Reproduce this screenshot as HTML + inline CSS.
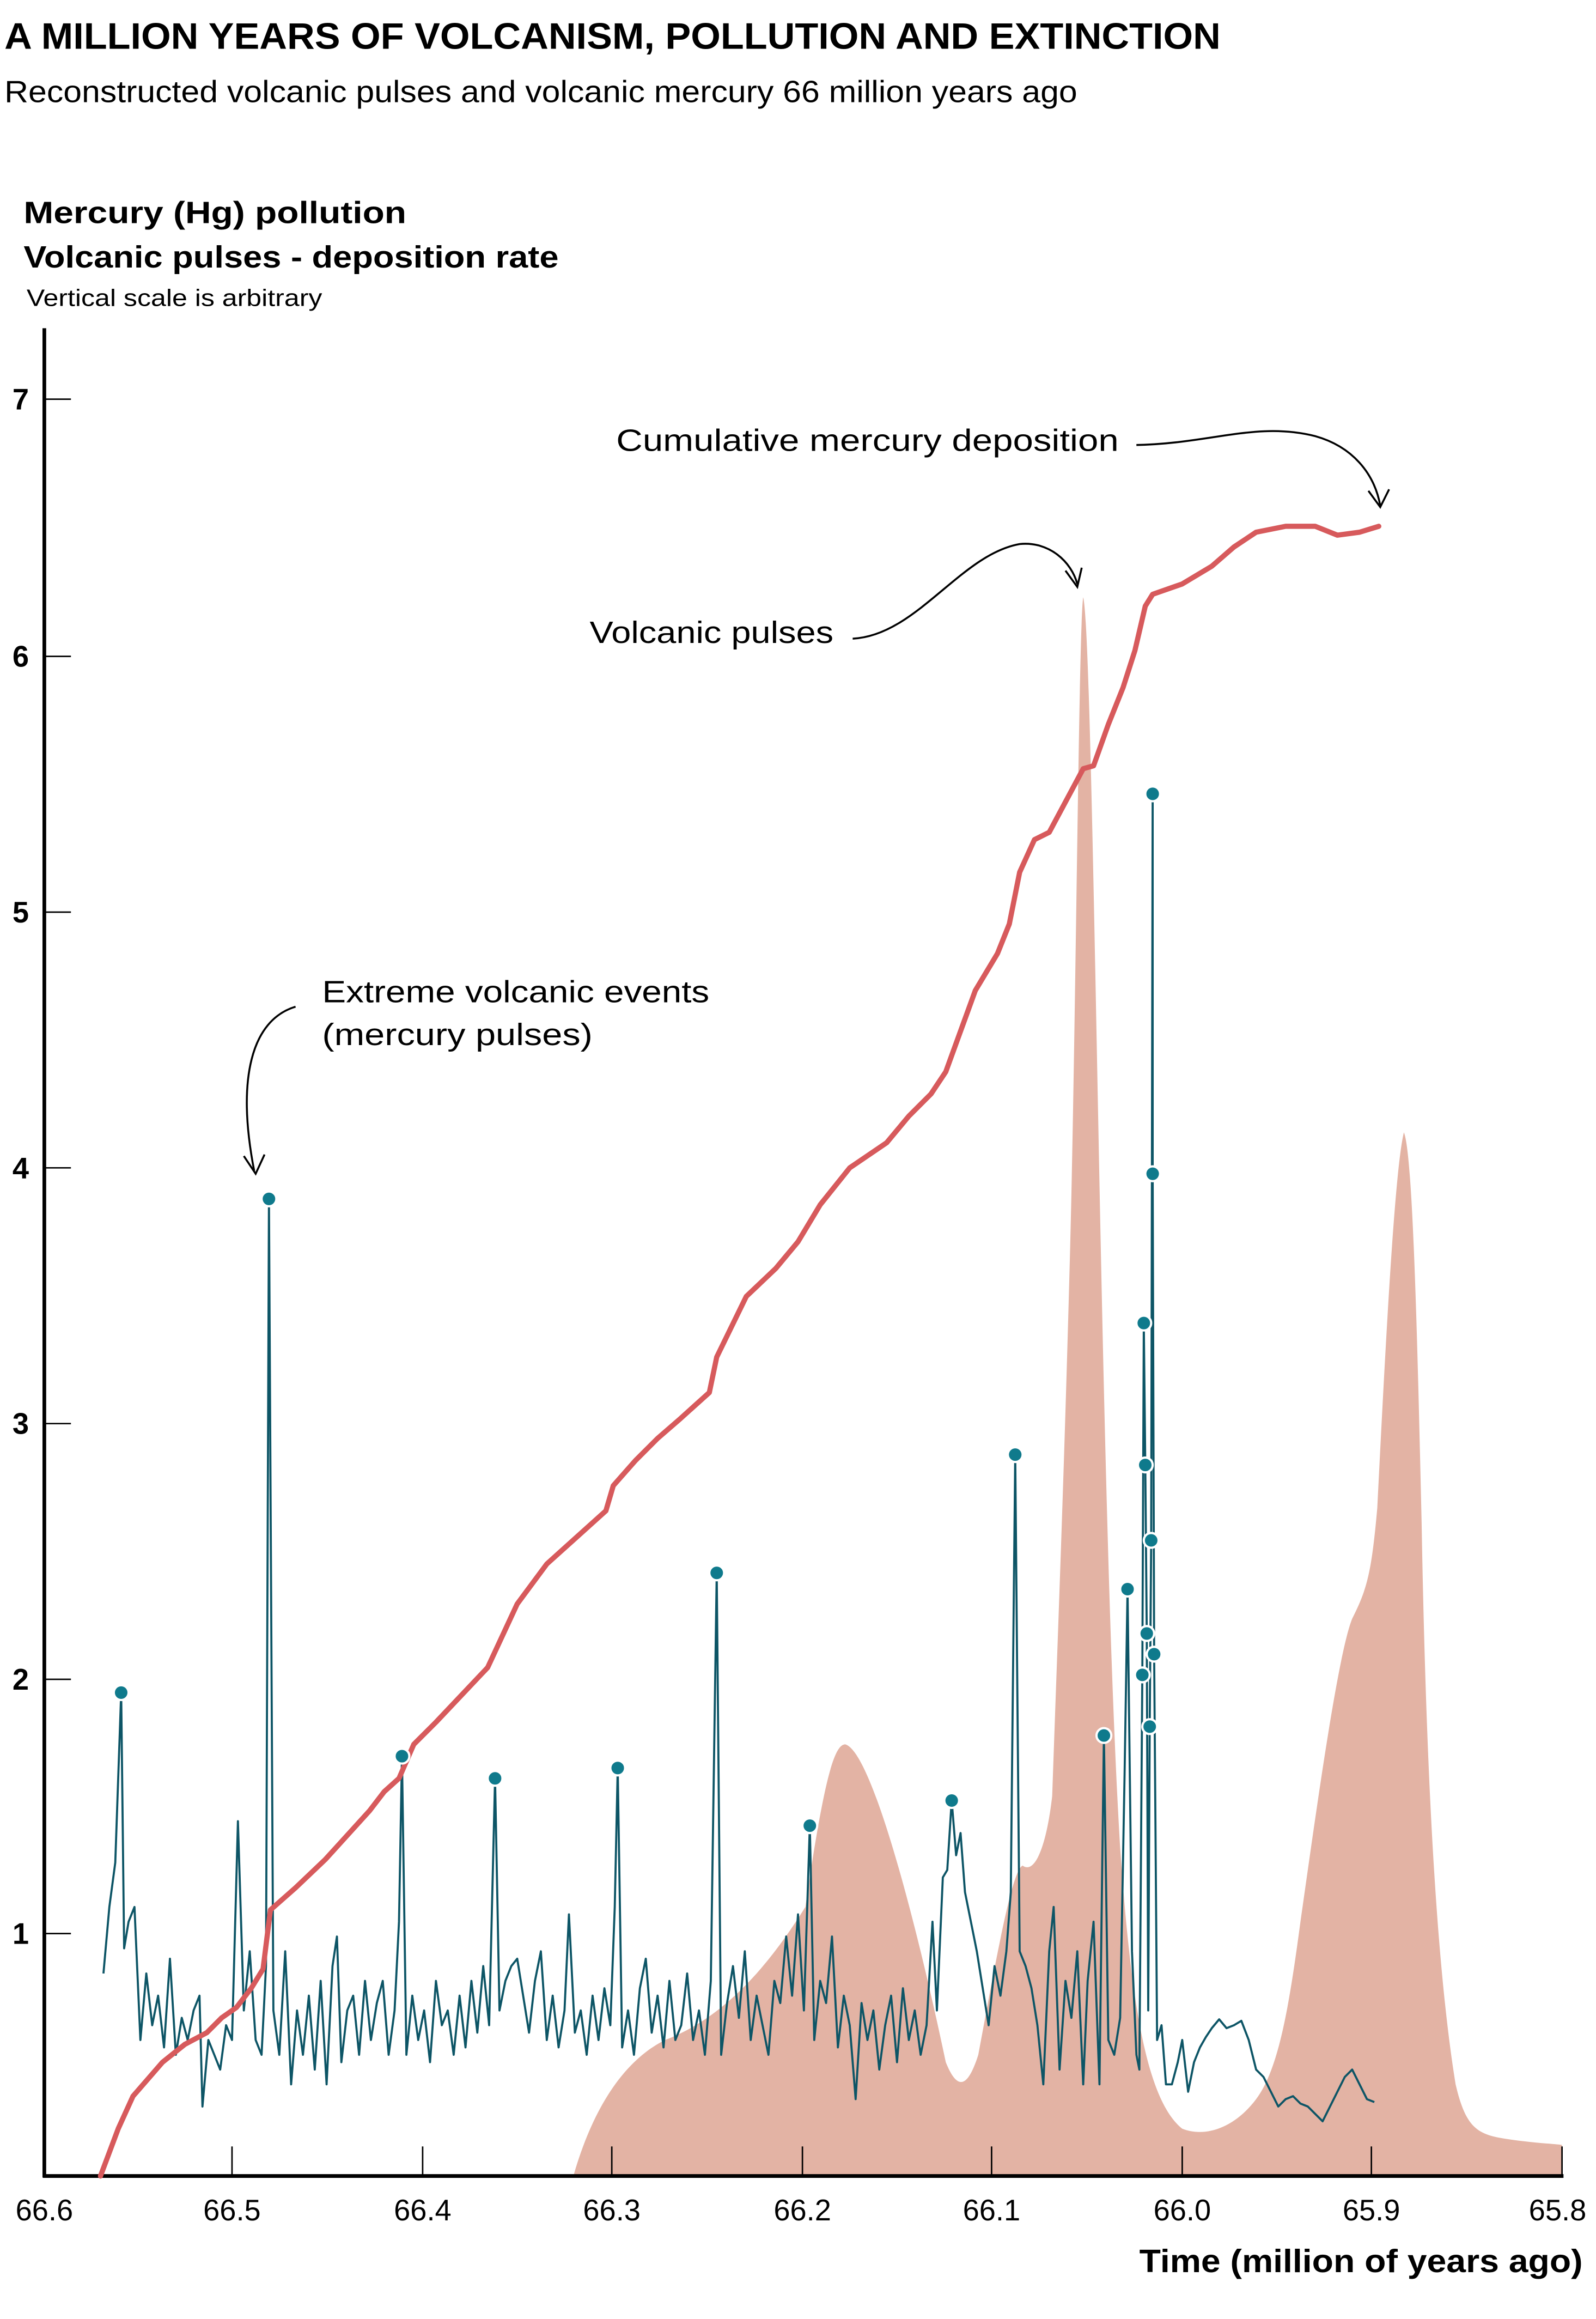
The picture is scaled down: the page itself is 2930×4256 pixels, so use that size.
<!DOCTYPE html>
<html><head><meta charset="utf-8"><style>
html,body{margin:0;padding:0;background:#fff}
svg{display:block}
text{font-family:"Liberation Sans",sans-serif}
</style></head><body>
<svg width="2930" height="4256" viewBox="0 0 1080 1568.7" xmlns="http://www.w3.org/2000/svg">
<rect width="1080" height="1568.7" fill="#fff"/>
<text x="3" y="33" font-size="25" font-weight="bold" textLength="823" lengthAdjust="spacingAndGlyphs">A MILLION YEARS OF VOLCANISM, POLLUTION AND EXTINCTION</text>
<text x="3" y="69" font-size="21" textLength="726" lengthAdjust="spacingAndGlyphs">Reconstructed volcanic pulses and volcanic mercury 66 million years ago</text>
<text x="16" y="151" font-size="21" font-weight="bold" textLength="259" lengthAdjust="spacingAndGlyphs">Mercury (Hg) pollution</text>
<text x="16" y="181" font-size="21" font-weight="bold" textLength="362" lengthAdjust="spacingAndGlyphs">Volcanic pulses - deposition rate</text>
<text x="18" y="207" font-size="16" textLength="200" lengthAdjust="spacingAndGlyphs">Vertical scale is arbitrary</text>

<!-- pink area -->
<path fill="#e3b3a4" d="M388,1472 C400,1430 420,1395 450,1380 C490,1365 520,1330 545,1290 C558,1200 565,1180 572,1180 C590,1185 620,1300 640,1395 C648,1415 655,1412 662,1390 C675,1320 685,1265 692,1262 C700,1268 708,1250 712,1215 C716,1100 720,1000 724,850 C728,700 730,420 733,404 C737,420 740,600 744,800 C748,1000 752,1150 758,1250 C765,1350 775,1420 800,1440 C815,1446 835,1440 850,1420 C865,1400 872,1360 880,1300 C890,1230 905,1120 915,1095 C925,1075 928,1065 932,1020 C938,900 944,790 950,766 C956,780 959,900 962,1030 C965,1200 972,1330 985,1410 C992,1440 1000,1444 1020,1447 C1040,1450 1050,1450 1057,1451 L1057,1472 Z"/>

<!-- axes -->
<line x1="30" y1="222" x2="30" y2="1473" stroke="#000" stroke-width="2.5"/>
<line x1="29" y1="1472" x2="1058" y2="1472" stroke="#000" stroke-width="2.5"/>
<g stroke="#000" stroke-width="1">
<line x1="30" y1="270" x2="48" y2="270"/><line x1="30" y1="444" x2="48" y2="444"/><line x1="30" y1="617" x2="48" y2="617"/><line x1="30" y1="790" x2="48" y2="790"/><line x1="30" y1="963" x2="48" y2="963"/><line x1="30" y1="1136" x2="48" y2="1136"/><line x1="30" y1="1308" x2="48" y2="1308"/>
<line x1="157" y1="1452" x2="157" y2="1472"/><line x1="286" y1="1452" x2="286" y2="1472"/><line x1="414" y1="1452" x2="414" y2="1472"/><line x1="543" y1="1452" x2="543" y2="1472"/><line x1="671" y1="1452" x2="671" y2="1472"/><line x1="800" y1="1452" x2="800" y2="1472"/><line x1="928" y1="1452" x2="928" y2="1472"/><line x1="1057" y1="1452" x2="1057" y2="1472"/>
</g>
<g font-size="20" font-weight="bold" text-anchor="middle">
<text x="14" y="277">7</text><text x="14" y="451">6</text><text x="14" y="624">5</text><text x="14" y="797">4</text><text x="14" y="970">3</text><text x="14" y="1143">2</text><text x="14" y="1315">1</text>
</g>
<g font-size="20" text-anchor="middle">
<text x="30" y="1502">66.6</text><text x="157" y="1502">66.5</text><text x="286" y="1502">66.4</text><text x="414" y="1502">66.3</text><text x="543" y="1502">66.2</text><text x="671" y="1502">66.1</text><text x="800" y="1502">66.0</text><text x="928" y="1502">65.9</text><text x="1054" y="1502">65.8</text>
</g>
<text x="1071" y="1537" font-size="22" font-weight="bold" text-anchor="end" textLength="300" lengthAdjust="spacingAndGlyphs">Time (million of years ago)</text>

<!-- teal series -->
<polyline fill="none" stroke="#0d5566" stroke-width="1.4" stroke-linejoin="round" points="70,1335 74,1290 78,1260 82,1145 84,1318 87,1300 91,1290 95,1380 99,1335 103,1370 107,1350 111,1385 115,1325 119,1390 123,1365 127,1380 131,1360 135,1350 137,1425 141,1380 145,1390 149,1400 153,1370 157,1380 161,1232 165,1360 169,1320 173,1380 177,1390 180,1330 182,811 185,1360 189,1390 193,1320 197,1410 201,1360 205,1390 209,1350 213,1400 217,1340 221,1410 225,1330 228,1310 231,1395 235,1360 239,1350 243,1390 247,1340 251,1380 255,1355 259,1340 263,1390 267,1360 270,1300 272,1188 275,1390 279,1350 283,1380 287,1360 291,1395 295,1340 299,1370 303,1360 307,1390 311,1350 315,1385 319,1340 323,1375 327,1330 331,1370 335,1203 338,1360 342,1340 346,1330 350,1325 354,1350 358,1375 362,1340 366,1320 370,1380 374,1350 378,1385 382,1360 385,1295 389,1375 393,1360 397,1390 401,1350 405,1380 409,1345 413,1370 416,1290 418,1196 421,1385 425,1360 429,1390 433,1345 437,1325 441,1375 445,1350 449,1385 453,1340 457,1380 461,1370 465,1335 469,1380 473,1360 477,1390 481,1340 485,1064 488,1390 492,1355 496,1330 500,1365 504,1320 508,1380 512,1350 516,1370 520,1390 524,1340 528,1355 532,1310 536,1350 540,1295 544,1360 548,1235 551,1380 555,1340 559,1355 563,1310 567,1385 571,1350 575,1370 579,1420 583,1355 587,1380 591,1360 595,1400 599,1370 603,1350 607,1395 611,1345 615,1380 619,1360 623,1390 627,1370 631,1300 634,1360 638,1270 641,1265 644,1218 647,1255 650,1240 653,1280 657,1300 661,1320 665,1345 669,1370 673,1330 677,1350 681,1320 684,1280 687,984 690,1320 694,1330 698,1345 702,1370 706,1410 710,1320 713,1290 717,1400 721,1340 725,1365 729,1320 733,1410 736,1340 740,1300 744,1410 747,1174 750,1380 754,1390 758,1365 761,1200 763,1075 766,1320 769,1390 771,1400 773,1133 774,895 775,991 776,1105 777,1360 778,1168 779,1042 780,537 780,794 781,1119 783,1380 786,1370 789,1410 793,1410 797,1395 800,1380 804,1415 808,1395 812,1385 816,1378 820,1372 825,1366 830,1372 835,1370 840,1367 845,1380 850,1400 855,1405 860,1415 865,1425 870,1420 875,1418 880,1423 885,1425 890,1430 895,1435 900,1425 905,1415 910,1405 915,1400 920,1410 925,1420 930,1422"/>

<!-- red cumulative -->
<polyline fill="none" stroke="#d75a5c" stroke-width="3.5" stroke-linejoin="round" stroke-linecap="round" points="68,1472 80,1440 90,1418 110,1395 125,1383 140,1375 150,1365 160,1358 170,1345 178,1332 183,1292 200,1277 220,1258 230,1247 250,1225 260,1212 270,1203 280,1180 295,1165 330,1128 350,1085 370,1058 390,1040 410,1022 415,1005 430,988 445,973 460,960 480,942 485,918 505,877 525,858 540,840 555,815 575,790 600,773 615,755 630,740 640,725 660,670 675,645 683,625 690,590 700,568 710,563 733,520 740,518 750,490 760,465 768,440 775,410 780,402 800,395 820,383 835,370 850,360 870,356 890,356 905,362 920,360 933,356"/>

<!-- dots -->
<g fill="#0f7a8c" stroke="#fff" stroke-width="1.5">
<circle cx="82" cy="1145" r="5"/><circle cx="182" cy="811" r="5"/><circle cx="272" cy="1188" r="5"/><circle cx="335" cy="1203" r="5"/><circle cx="418" cy="1196" r="5"/><circle cx="485" cy="1064" r="5"/><circle cx="548" cy="1235" r="5"/><circle cx="644" cy="1218" r="5"/><circle cx="687" cy="984" r="5"/><circle cx="747" cy="1174" r="5"/><circle cx="763" cy="1075" r="5"/><circle cx="773" cy="1133" r="5"/><circle cx="774" cy="895" r="5"/><circle cx="775" cy="991" r="5"/><circle cx="776" cy="1105" r="5"/><circle cx="778" cy="1168" r="5"/><circle cx="779" cy="1042" r="5"/><circle cx="780" cy="537" r="5"/><circle cx="780" cy="794" r="5"/><circle cx="781" cy="1119" r="5"/>
</g>

<!-- annotations -->
<g font-size="21">
<text x="417" y="305" textLength="340" lengthAdjust="spacingAndGlyphs">Cumulative mercury deposition</text>
<text x="399" y="435" textLength="165" lengthAdjust="spacingAndGlyphs">Volcanic pulses</text>
<text x="218" y="678" textLength="262" lengthAdjust="spacingAndGlyphs">Extreme volcanic events</text>
<text x="218" y="707" textLength="183" lengthAdjust="spacingAndGlyphs">(mercury pulses)</text>
</g>
<g fill="none" stroke="#000" stroke-width="1.3">
<path d="M769,301 C820,300 850,285 890,295 C915,302 930,320 934,342"/>
<path d="M926,332 L934,343 L940,331"/>
<path d="M577,432 C620,430 650,375 690,368 C710,366 725,380 729,395"/>
<path d="M721,386 L729,397 L732,384"/>
<path d="M200,681 C170,690 160,730 172,792"/>
<path d="M165,782 L173,794 L179,781"/>
</g>
</svg>
</body></html>
